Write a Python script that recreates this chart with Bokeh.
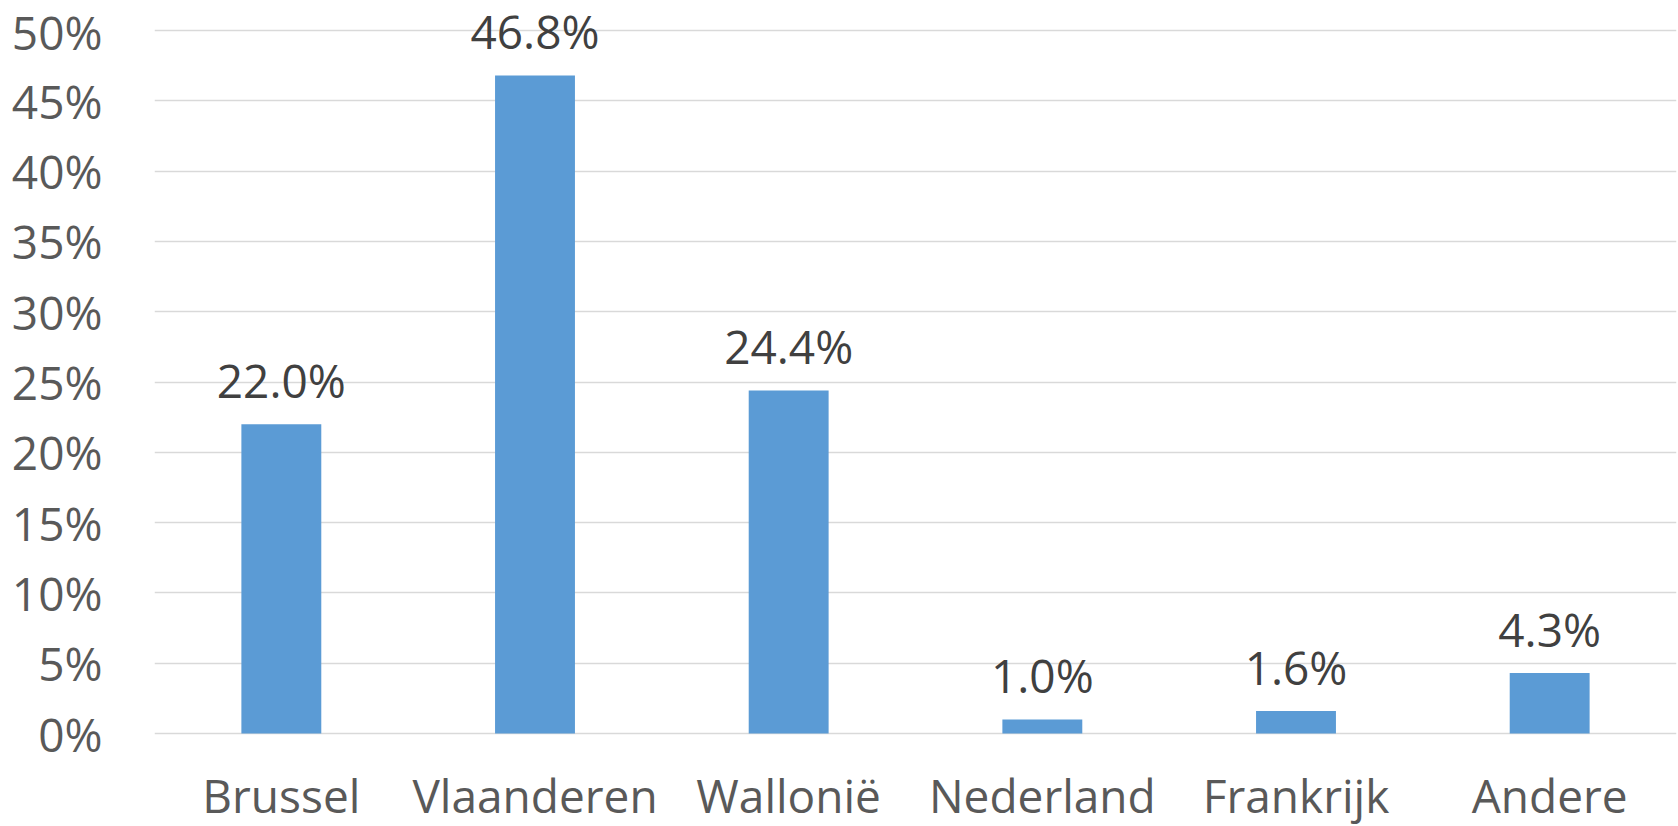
from bokeh.plotting import figure
from bokeh.models import ColumnDataSource, LabelSet, Range1d, FixedTicker, CustomJSTickFormatter
from bokeh.core.properties import value
from bokeh.embed import file_html
from bokeh.resources import INLINE

categories = ["Brussel", "Vlaanderen", "Wallonië", "Nederland", "Frankrijk", "Andere"]
values = [22.0, 46.8, 24.4, 1.0, 1.6, 4.3]
labels = ["22.0%", "46.8%", "24.4%", "1.0%", "1.6%", "4.3%"]
y_ticks = [0, 5, 10, 15, 20, 25, 30, 35, 40, 45, 50]

FONT = "Open Sans"
FS = "46px"

src = ColumnDataSource(dict(cat=categories, val=values, lab=labels,
                            base=[0] * len(categories)))

# range extends below 0 to leave room for the category labels inside the frame
p = figure(x_range=categories, y_range=Range1d(-6.61, 52.13), width=1678, height=826,
           output_backend="svg", toolbar_location=None,
           min_border_left=154, min_border_right=2, min_border_top=0, min_border_bottom=0)
p.outline_line_color = None
p.background_fill_color = "white"
p.border_fill_color = "white"

p.vbar(x="cat", top="val", bottom=0, width=0.315, source=src, color="#5b9bd5", line_color=None)

# value labels above bars
p.add_layout(LabelSet(x="cat", y="val", text="lab", source=src, text_align="center",
                      text_baseline="alphabetic", y_offset=26, text_font=value(FONT),
                      text_font_size=value(FS), text_color="#404040"))

# category labels below the 0% line
p.add_layout(LabelSet(x="cat", y="base", text="cat", source=src, text_align="center",
                      text_baseline="alphabetic", y_offset=-79, text_font=value(FONT),
                      text_font_size=value(FS), text_color="#595959"))

p.yaxis.ticker = FixedTicker(ticks=y_ticks)
p.yaxis.formatter = CustomJSTickFormatter(code="return tick.toFixed(0) + '%';")
p.yaxis.axis_line_color = None
p.yaxis.major_tick_line_color = None
p.yaxis.minor_tick_line_color = None
p.yaxis.major_tick_out = 0
p.yaxis.major_label_standoff = 52
p.yaxis.major_label_text_font = FONT
p.yaxis.major_label_text_font_size = FS
p.yaxis.major_label_text_color = "#595959"

p.xaxis.visible = False

p.xgrid.grid_line_color = None
p.ygrid.grid_line_color = "#d9d9d9"
p.ygrid.grid_line_width = 1.5

open("out.html", "w").write(file_html(p, INLINE))
